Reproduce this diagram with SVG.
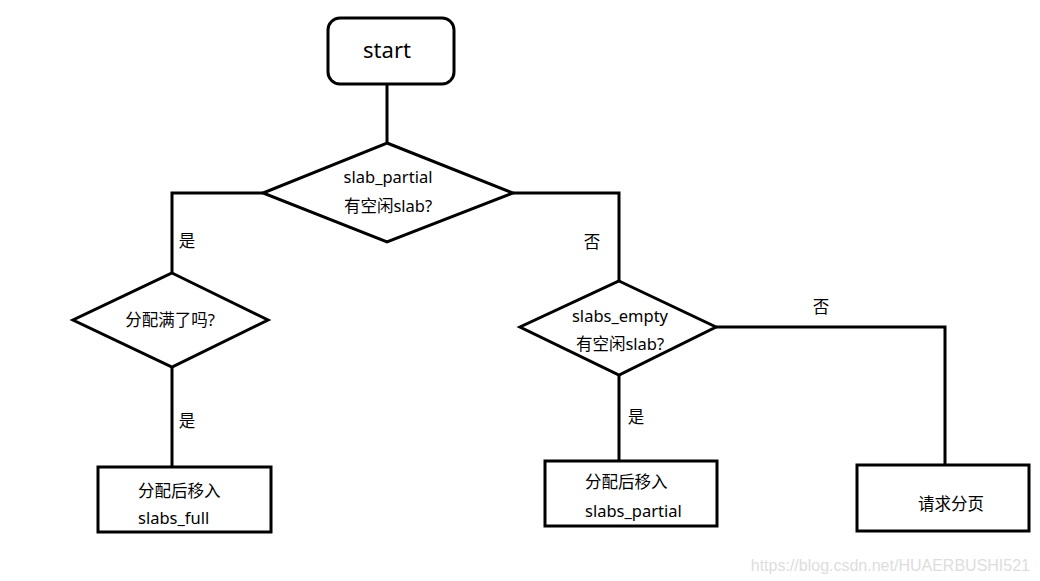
<svg xmlns="http://www.w3.org/2000/svg" width="1040" height="581" viewBox="0 0 1040 581">
<style>
.s{fill:#fff;stroke:#000;stroke-width:3}
.c{fill:none;stroke:#000;stroke-width:3}
text{font-family:"Microsoft YaHei","Noto Sans","Noto Sans CJK SC",sans-serif;font-size:16.5px;fill:#000}
.m{text-anchor:middle}
.w{font-family:"Liberation Sans",Arial,sans-serif;font-size:16px;fill:#ddd}
</style>
<rect width="1040" height="581" fill="#fff"/>
<g id="connectors">
<path class="c" d="M387 85V143"/>
<path class="c" d="M263 193H172V273"/>
<path class="c" d="M172 367V467"/>
<path class="c" d="M513 193H619V281"/>
<path class="c" d="M619 375V461"/>
<path class="c" d="M716 327H945V465"/>
<text x="187" y="247" class="m">是</text>
<text x="187" y="427" class="m">是</text>
<text x="592" y="248" class="m">否</text>
<text x="636" y="423" class="m">是</text>
<text x="821" y="313" class="m">否</text>
</g>
<g id="start">
<rect class="s" x="328" y="18" width="126" height="66" rx="12"/>
<text x="387" y="58" class="m" style="font-size:22px">start</text>
</g>
<g id="d1">
<polygon class="s" points="387,143 513,193 387,242 263,193"/>
<text x="388" y="183" class="m">slab_partial</text>
<text x="388" y="212" class="m">有空闲slab?</text>
</g>
<g id="d2">
<polygon class="s" points="172,273 268,320 172,367 73,320"/>
<text x="170" y="326" class="m">分配满了吗?</text>
</g>
<g id="d3">
<polygon class="s" points="619,281 716,327 619,375 520,327"/>
<text x="620" y="322" class="m">slabs_empty</text>
<text x="620" y="350" class="m">有空闲slab?</text>
</g>
<g id="b1">
<rect class="s" x="98" y="467" width="173" height="65"/>
<text x="138" y="497">分配后移入</text>
<text x="138" y="524">slabs_full</text>
</g>
<g id="b2">
<rect class="s" x="545" y="461" width="172" height="65"/>
<text x="585" y="488">分配后移入</text>
<text x="585" y="517">slabs_partial</text>
</g>
<g id="b3">
<rect class="s" x="857" y="465" width="172" height="66"/>
<text x="951" y="510" class="m">请求分页</text>
</g>
<text x="1030" y="571" class="w" style="text-anchor:end">https://blog.csdn.net/HUAERBUSHI521</text>
</svg>
